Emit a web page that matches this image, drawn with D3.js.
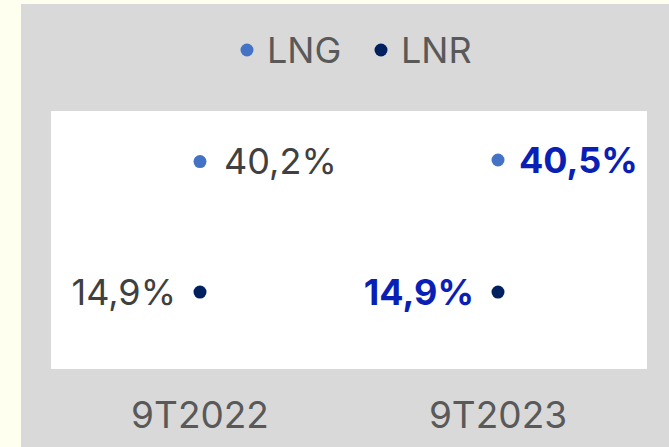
<!DOCTYPE html>
<html lang="en">
<head>
  <meta charset="UTF-8">
  <title>LNG vs LNR</title>
  <style>
    body { margin: 0; background: #fffff0; }
    svg { display: block; font-family: Inter, Roboto, sans-serif; }
  </style>
</head>
<body>
  <div id="chart"></div>
  <script src="https://d3js.org/d3.v7.min.js"></script>
  <script>

  // chart data
  const periods = ["9T2022", "9T2023"];
  const lngValues = [40.2, 40.5];
  const lnrValues = [14.9, 14.9];
  const seriesNames = ["LNG", "LNR"];

  // basic layout
  const width = 669;
  const height = 447;
  const panel = {x: 21, y: 4};
  const plot = {left: 51, top: 111, right: 647, bottom: 369};
  const colors = {LNG: "#4472c4", LNR: "#002060"};
  const highlightIndex = 1; // latest period is shown bold

  const svg = d3.select("#chart")
    .append("svg")
      .attr("width", width)
      .attr("height", height);

  // grey panel and white plot area
  svg.append("rect")
      .attr("x", panel.x)
      .attr("y", panel.y)
      .attr("width", width - panel.x)
      .attr("height", height - panel.y)
      .attr("fill", "#d9d9d9");

  svg.append("rect")
      .attr("x", plot.left)
      .attr("y", plot.top)
      .attr("width", plot.right - plot.left)
      .attr("height", plot.bottom - plot.top)
      .attr("fill", "#ffffff");

  // scales
  const x = d3.scaleBand()
      .domain(periods)
      .range([plot.left, plot.right]);

  const y = d3.scaleLinear()
      .domain([0, 50])
      .range([plot.bottom, plot.top]);

  // category axis (labels only)
  svg.append("g")
      .attr("transform", "translate(0," + plot.bottom + ")")
      .call(d3.axisBottom(x).tickSize(0).tickPadding(33))
      .call(g => g.select(".domain").remove())
      .selectAll("text")
        .attr("font-size", 37)
        .attr("font-family", "Inter, sans-serif")
        .attr("fill", "#595959");

  const fmt = v => d3.format(".1f")(v).replace(".", ",") + "%";

  function drawSeries(values, name, side) {
    const pts = periods.map((p, i) => ({p: p, v: values[i], i: i}));
    const g = svg.append("g");

    g.selectAll("circle")
      .data(pts)
      .enter()
      .append("circle")
        .attr("cx", d => x(d.p) + x.bandwidth() / 2)
        .attr("cy", d => y(d.v))
        .attr("r", 6.5)
        .attr("fill", colors[name]);

    // labels to the right for LNG, to the left for LNR
    g.selectAll("text")
      .data(pts)
      .enter()
      .append("text")
        .attr("x", d => {
          const gap = (d.i === highlightIndex && side > 0) ? 21 : 24;
          return x(d.p) + x.bandwidth() / 2 + side * gap;
        })
        .attr("y", d => y(d.v))
        .attr("dy", "0.35em")
        .attr("text-anchor", side > 0 ? "start" : "end")
        .attr("font-size", 36)
        .attr("font-weight", d => d.i === highlightIndex ? "bold" : "normal")
        .attr("fill", d => d.i === highlightIndex ? "#0a1fb5" : "#404040")
        .text(d => fmt(d.v));
  }

  drawSeries(lngValues, "LNG", 1);
  drawSeries(lnrValues, "LNR", -1);

  // legend
  const legendX = [247, 381];
  const legend = svg.append("g");
  seriesNames.forEach((name, i) => {
    legend.append("circle")
        .attr("cx", legendX[i])
        .attr("cy", 50)
        .attr("r", 6.5)
        .attr("fill", colors[name]);
    legend.append("text")
        .attr("x", legendX[i] + 20)
        .attr("y", 50)
        .attr("dy", "0.35em")
        .attr("font-size", 36)
        .attr("fill", "#595959")
        .text(name);
  });

  </script>
</body>
</html>
